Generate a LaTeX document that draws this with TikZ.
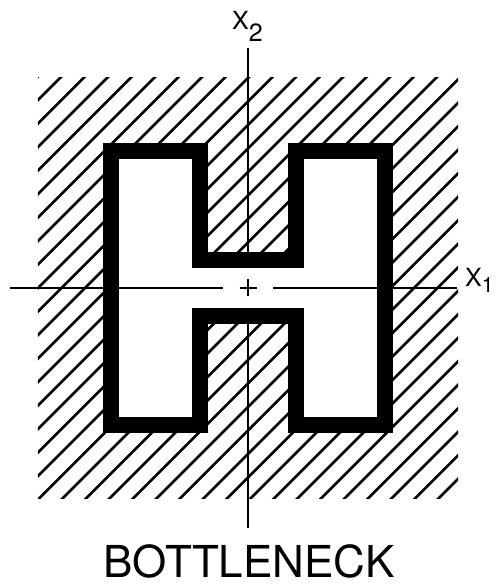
\documentclass[tikz,border=0pt]{standalone}
\usepackage{fontspec}
\setmainfont{TeX Gyre Heros}
\usetikzlibrary{positioning}
\tikzset{
  hatch/.style={line width=2.7pt, black},
  outline/.style={line width=16pt, miter limit=10, draw=black, fill=white},
  axis/.style={line width=1.6pt, black},
  axislabel/.style={inner sep=0pt, font=\fontsize{25}{25}\selectfont},
  caption/.style={inner sep=0pt, font=\fontsize{44}{44}\selectfont},
}
\begin{document}
\begin{tikzpicture}[x=1pt, y=1pt]
\useasboundingbox (-248,-300) rectangle (249,288);
% hatched square
\begin{scope}
  \clip (-210,-210) rectangle (210,210);
  \foreach \k in {-19,...,19}
    \draw[hatch] (-240,{-240+23.5*\k-1.5}) -- (240,{240+23.5*\k-1.5});
\end{scope}
% the H region
\draw[outline] (-137,137) -- (-48,137) -- (-48,28) -- (48,28) -- (48,137)
  -- (137,137) -- (137,-137) -- (48,-137) -- (48,-28) -- (-48,-28)
  -- (-48,-137) -- (-137,-137) -- cycle;
% axes
\coordinate (x2top) at (0,240);
\coordinate (x2up) at (0,28);
\coordinate (x2down) at (0,-28);
\coordinate (x2bot) at (0,-240);
\coordinate (x1left) at (-238,0);
\coordinate (x1gapl) at (-25,0);
\coordinate (x1gapr) at (25,0);
\coordinate (x1right) at (209,0);
\draw[axis] (x2top) -- (x2up);
\draw[axis] (x2down) -- (x2bot);
\draw[axis] (x1left) -- (x1gapl);
\draw[axis] (x1gapr) -- (x1right);
\draw[axis] (-8.5,0) -- (8.5,0);
\draw[axis] (0,-8.5) -- (0,8.5);
% labels
\node[axislabel, anchor=base west] (xtwo) at (-16,258) {X\raisebox{-12pt}{2}};
\node[axislabel, anchor=base west] (xone) at (217,1) {X\raisebox{-6pt}{\fontsize{21}{21}\selectfont 1}};
\node[caption, anchor=base] (name) at (1,-289) {BOTTLENECK};
\end{tikzpicture}
\end{document}
